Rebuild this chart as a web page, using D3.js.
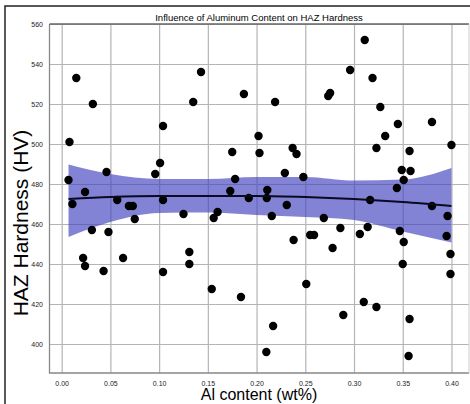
<!DOCTYPE html>
<html>
<head>
<meta charset="utf-8">
<script src="https://cdn.jsdelivr.net/npm/d3@7"></script>
<style>
  body { margin: 0; background: #fff; }
  svg { display: block; font-family: "Liberation Sans", Arial, sans-serif; }
</style>
</head>
<body>
<svg width="470" height="404"></svg>
<script>
// scatter data
const alContent = [0.015, 0.032, 0.008, 0.007, 0.024, 0.046, 0.143, 0.135, 0.187, 0.104,
  0.101, 0.096, 0.175, 0.178, 0.173, 0.202, 0.203, 0.219, 0.311, 0.296,
  0.319, 0.2755, 0.2735, 0.327, 0.345, 0.380, 0.332, 0.323, 0.237, 0.241,
  0.357, 0.400, 0.229, 0.248, 0.349, 0.358, 0.351, 0.344, 0.211, 0.011,
  0.057, 0.069, 0.073, 0.075, 0.031, 0.048, 0.022, 0.024, 0.043, 0.063,
  0.104, 0.104, 0.125, 0.131, 0.131, 0.154, 0.184, 0.160, 0.156, 0.192,
  0.2105, 0.231, 0.2156, 0.269, 0.286, 0.306, 0.314, 0.3165, 0.380, 0.396,
  0.395, 0.347, 0.351, 0.350, 0.399, 0.399, 0.238, 0.255, 0.259, 0.278,
  0.251, 0.310, 0.323, 0.289, 0.357, 0.217, 0.210, 0.356];
const hardness = [533, 520, 501, 482, 476, 486, 536, 521, 525, 509,
  490.5, 485, 496, 482.5, 476.5, 504, 495.5, 521, 552, 537,
  533, 525.5, 524, 518.5, 510, 511, 504, 498, 498, 495,
  496.5, 499.5, 485.5, 483.5, 487, 486.5, 482, 478, 477, 470,
  472, 469, 469, 462.5, 457, 456, 443, 439, 436.5, 443,
  472, 436, 465, 446, 440, 427.5, 423.5, 466, 463, 473,
  473, 469.5, 464, 463, 458, 455, 458.5, 472, 469, 464,
  454, 456.5, 451, 440, 445, 435, 452, 454.5, 454.5, 448,
  430, 421, 418.5, 414.5, 412.5, 409, 396, 394];

// regression line and confidence band
const fitX = [0.007, 0.05, 0.10, 0.15, 0.20, 0.25, 0.30, 0.35, 0.40];
const fitY = [472.5, 473.5, 474, 474, 474, 473.5, 472.5, 471, 469];
const fitUpper = [489.8, 485, 482.5, 482.5, 483.5, 483.5, 481.7, 482.2, 488];
const fitLower = [453.5, 461, 465.5, 465.7, 464.5, 463.5, 462, 456.2, 450.8];

const xTicks = [0, 0.05, 0.10, 0.15, 0.20, 0.25, 0.30, 0.35, 0.40];
const yTicks = [400, 420, 440, 460, 480, 500, 520, 540, 560];

const svg = d3.select("svg");
const plotLeft = 49.5, plotRight = 469, plotTop = 24, plotBottom = 373;

const x = d3.scaleLinear().domain([-0.0125, 0.418]).range([plotLeft, plotRight]);
const y = d3.scaleLinear().domain([385.5, 560]).range([plotBottom, plotTop]);

// figure border
svg.append("path")
  .attr("d", `M5,404V6H470`)
  .attr("fill", "none")
  .attr("stroke", "#222")
  .attr("stroke-width", 1.5);

// gridlines + tick labels
const xAxis = svg.append("g")
  .attr("transform", `translate(0,${plotBottom})`)
  .call(d3.axisBottom(x).tickValues(xTicks).tickFormat(d3.format(".2f"))
    .tickSize(-(plotBottom - plotTop)).tickPadding(8));
const yAxis = svg.append("g")
  .attr("transform", `translate(${plotLeft},0)`)
  .call(d3.axisLeft(y).tickValues(yTicks).tickFormat(d3.format("d"))
    .tickSize(-(plotRight - plotLeft)).tickPadding(6.5));

[xAxis, yAxis].forEach(g => {
  g.select(".domain").remove();
  g.selectAll(".tick line").attr("stroke", "#b4b4b4").attr("stroke-width", 1.2);
  g.selectAll(".tick text").attr("fill", "#222").style("font-size", "7px");
});

// band
const band = d3.area()
  .x((d, i) => x(fitX[i]))
  .y0((d, i) => y(fitLower[i]))
  .y1((d, i) => y(fitUpper[i]))
  .curve(d3.curveMonotoneX);
svg.append("path")
  .datum(fitX)
  .attr("d", band)
  .attr("fill", "#4040c0")
  .attr("fill-opacity", 0.65);

// spines
svg.append("path")
  .attr("d", `M${plotLeft},${plotTop}V${plotBottom}H${plotRight}`)
  .attr("fill", "none").attr("stroke", "#888").attr("stroke-width", 1.3);
svg.append("line")
  .attr("x1", plotLeft).attr("x2", plotRight).attr("y1", plotTop).attr("y2", plotTop)
  .attr("stroke", "#666").attr("stroke-width", 1.5);
svg.append("line")
  .attr("x1", plotRight).attr("x2", plotRight).attr("y1", plotTop).attr("y2", plotBottom)
  .attr("stroke", "#ccc").attr("stroke-width", 1);

// points
svg.append("g").selectAll("circle")
  .data(alContent)
  .enter()
  .append("circle")
  .attr("cx", d => x(d))
  .attr("cy", (d, i) => y(hardness[i]))
  .attr("r", 4.2)
  .attr("fill", "#000");

// fit line
const line = d3.line()
  .x((d, i) => x(fitX[i]))
  .y((d, i) => y(fitY[i]))
  .curve(d3.curveMonotoneX);
svg.append("path")
  .datum(fitX)
  .attr("d", line)
  .attr("fill", "none")
  .attr("stroke", "#0a0a20")
  .attr("stroke-width", 2);

// titles
svg.append("text")
  .attr("x", 259).attr("y", 21)
  .attr("text-anchor", "middle")
  .style("font-size", "9.5px")
  .text("Influence of Aluminum Content on HAZ Hardness");

svg.append("text")
  .attr("x", 259).attr("y", 400)
  .attr("text-anchor", "middle")
  .style("font-size", "16px")
  .text("Al content (wt%)");

svg.append("text")
  .attr("transform", "translate(28,223) rotate(-90)")
  .attr("text-anchor", "middle")
  .style("font-size", "21px")
  .text("HAZ Hardness (HV)");
</script>
</body>
</html>
